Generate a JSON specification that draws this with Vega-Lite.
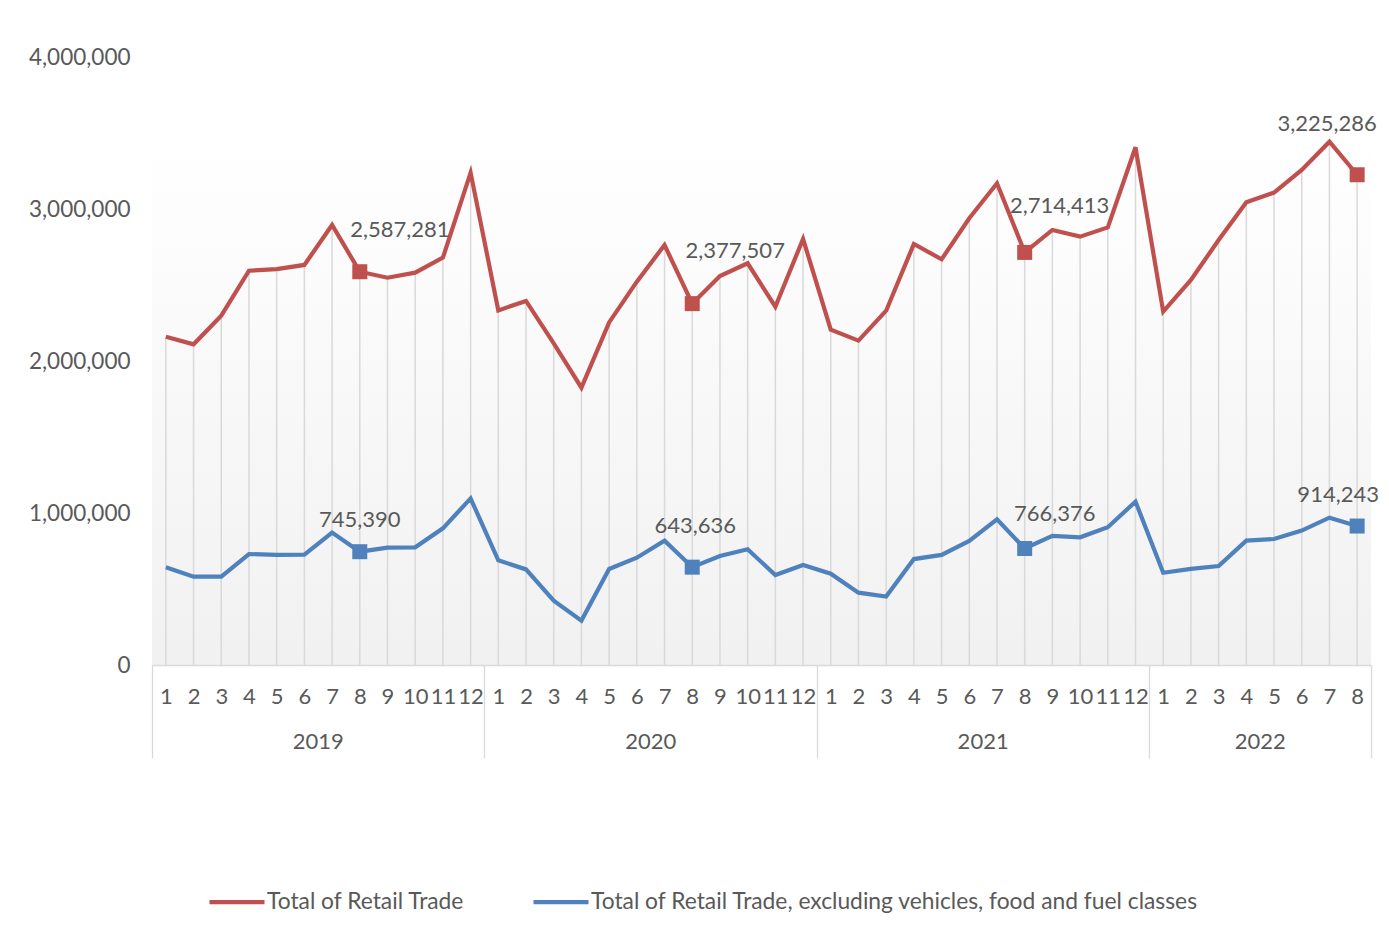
{
  "$schema": "https://vega.github.io/schema/vega-lite/v6.json",
  "autosize": "none",
  "width": 1219,
  "height": 608,
  "padding": {"left": 152, "top": 57, "right": 18, "bottom": 265},
  "background": "#ffffff",
  "config": {
    "font": "Lato",
    "view": {
      "stroke": null,
      "fill": {"gradient": "linear", "x1": 0, "y1": 0, "x2": 0, "y2": 1,
        "stops": [{"offset": 0, "color": "#ffffff"}, {"offset": 0.13, "color": "#ffffff"}, {"offset": 1, "color": "#f1f1f1"}]}
    },
    "text": {"font": "Lato", "fontSize": 22, "fill": "#595959"}
  },
  "data": {"values": [
    {"key": "2019-01", "year": 2019, "month": 1, "series": "Total of Retail Trade", "value": 2160000},
    {"key": "2019-02", "year": 2019, "month": 2, "series": "Total of Retail Trade", "value": 2110000},
    {"key": "2019-03", "year": 2019, "month": 3, "series": "Total of Retail Trade", "value": 2298000},
    {"key": "2019-04", "year": 2019, "month": 4, "series": "Total of Retail Trade", "value": 2594000},
    {"key": "2019-05", "year": 2019, "month": 5, "series": "Total of Retail Trade", "value": 2605000},
    {"key": "2019-06", "year": 2019, "month": 6, "series": "Total of Retail Trade", "value": 2632000},
    {"key": "2019-07", "year": 2019, "month": 7, "series": "Total of Retail Trade", "value": 2895000},
    {"key": "2019-08", "year": 2019, "month": 8, "series": "Total of Retail Trade", "value": 2587281},
    {"key": "2019-09", "year": 2019, "month": 9, "series": "Total of Retail Trade", "value": 2548000},
    {"key": "2019-10", "year": 2019, "month": 10, "series": "Total of Retail Trade", "value": 2581000},
    {"key": "2019-11", "year": 2019, "month": 11, "series": "Total of Retail Trade", "value": 2680000},
    {"key": "2019-12", "year": 2019, "month": 12, "series": "Total of Retail Trade", "value": 3239000},
    {"key": "2020-01", "year": 2020, "month": 1, "series": "Total of Retail Trade", "value": 2333000},
    {"key": "2020-02", "year": 2020, "month": 2, "series": "Total of Retail Trade", "value": 2395000},
    {"key": "2020-03", "year": 2020, "month": 3, "series": "Total of Retail Trade", "value": 2116000},
    {"key": "2020-04", "year": 2020, "month": 4, "series": "Total of Retail Trade", "value": 1825000},
    {"key": "2020-05", "year": 2020, "month": 5, "series": "Total of Retail Trade", "value": 2254000},
    {"key": "2020-06", "year": 2020, "month": 6, "series": "Total of Retail Trade", "value": 2522000},
    {"key": "2020-07", "year": 2020, "month": 7, "series": "Total of Retail Trade", "value": 2763000},
    {"key": "2020-08", "year": 2020, "month": 8, "series": "Total of Retail Trade", "value": 2377507},
    {"key": "2020-09", "year": 2020, "month": 9, "series": "Total of Retail Trade", "value": 2559000},
    {"key": "2020-10", "year": 2020, "month": 10, "series": "Total of Retail Trade", "value": 2643000},
    {"key": "2020-11", "year": 2020, "month": 11, "series": "Total of Retail Trade", "value": 2357000},
    {"key": "2020-12", "year": 2020, "month": 12, "series": "Total of Retail Trade", "value": 2803000},
    {"key": "2021-01", "year": 2021, "month": 1, "series": "Total of Retail Trade", "value": 2206000},
    {"key": "2021-02", "year": 2021, "month": 2, "series": "Total of Retail Trade", "value": 2134000},
    {"key": "2021-03", "year": 2021, "month": 3, "series": "Total of Retail Trade", "value": 2331000},
    {"key": "2021-04", "year": 2021, "month": 4, "series": "Total of Retail Trade", "value": 2770000},
    {"key": "2021-05", "year": 2021, "month": 5, "series": "Total of Retail Trade", "value": 2669000},
    {"key": "2021-06", "year": 2021, "month": 6, "series": "Total of Retail Trade", "value": 2939000},
    {"key": "2021-07", "year": 2021, "month": 7, "series": "Total of Retail Trade", "value": 3169000},
    {"key": "2021-08", "year": 2021, "month": 8, "series": "Total of Retail Trade", "value": 2714413},
    {"key": "2021-09", "year": 2021, "month": 9, "series": "Total of Retail Trade", "value": 2862000},
    {"key": "2021-10", "year": 2021, "month": 10, "series": "Total of Retail Trade", "value": 2818000},
    {"key": "2021-11", "year": 2021, "month": 11, "series": "Total of Retail Trade", "value": 2879000},
    {"key": "2021-12", "year": 2021, "month": 12, "series": "Total of Retail Trade", "value": 3406000},
    {"key": "2022-01", "year": 2022, "month": 1, "series": "Total of Retail Trade", "value": 2325000},
    {"key": "2022-02", "year": 2022, "month": 2, "series": "Total of Retail Trade", "value": 2533000},
    {"key": "2022-03", "year": 2022, "month": 3, "series": "Total of Retail Trade", "value": 2796000},
    {"key": "2022-04", "year": 2022, "month": 4, "series": "Total of Retail Trade", "value": 3044000},
    {"key": "2022-05", "year": 2022, "month": 5, "series": "Total of Retail Trade", "value": 3108000},
    {"key": "2022-06", "year": 2022, "month": 6, "series": "Total of Retail Trade", "value": 3257000},
    {"key": "2022-07", "year": 2022, "month": 7, "series": "Total of Retail Trade", "value": 3443000},
    {"key": "2022-08", "year": 2022, "month": 8, "series": "Total of Retail Trade", "value": 3225286},
    {"key": "2019-01", "year": 2019, "month": 1, "series": "Total of Retail Trade, excluding vehicles, food and fuel classes", "value": 643000},
    {"key": "2019-02", "year": 2019, "month": 2, "series": "Total of Retail Trade, excluding vehicles, food and fuel classes", "value": 581000},
    {"key": "2019-03", "year": 2019, "month": 3, "series": "Total of Retail Trade, excluding vehicles, food and fuel classes", "value": 582000},
    {"key": "2019-04", "year": 2019, "month": 4, "series": "Total of Retail Trade, excluding vehicles, food and fuel classes", "value": 730000},
    {"key": "2019-05", "year": 2019, "month": 5, "series": "Total of Retail Trade, excluding vehicles, food and fuel classes", "value": 724000},
    {"key": "2019-06", "year": 2019, "month": 6, "series": "Total of Retail Trade, excluding vehicles, food and fuel classes", "value": 726000},
    {"key": "2019-07", "year": 2019, "month": 7, "series": "Total of Retail Trade, excluding vehicles, food and fuel classes", "value": 871000},
    {"key": "2019-08", "year": 2019, "month": 8, "series": "Total of Retail Trade, excluding vehicles, food and fuel classes", "value": 745390},
    {"key": "2019-09", "year": 2019, "month": 9, "series": "Total of Retail Trade, excluding vehicles, food and fuel classes", "value": 772000},
    {"key": "2019-10", "year": 2019, "month": 10, "series": "Total of Retail Trade, excluding vehicles, food and fuel classes", "value": 774000},
    {"key": "2019-11", "year": 2019, "month": 11, "series": "Total of Retail Trade, excluding vehicles, food and fuel classes", "value": 899000},
    {"key": "2019-12", "year": 2019, "month": 12, "series": "Total of Retail Trade, excluding vehicles, food and fuel classes", "value": 1096000},
    {"key": "2020-01", "year": 2020, "month": 1, "series": "Total of Retail Trade, excluding vehicles, food and fuel classes", "value": 689000},
    {"key": "2020-02", "year": 2020, "month": 2, "series": "Total of Retail Trade, excluding vehicles, food and fuel classes", "value": 629000},
    {"key": "2020-03", "year": 2020, "month": 3, "series": "Total of Retail Trade, excluding vehicles, food and fuel classes", "value": 423000},
    {"key": "2020-04", "year": 2020, "month": 4, "series": "Total of Retail Trade, excluding vehicles, food and fuel classes", "value": 292000},
    {"key": "2020-05", "year": 2020, "month": 5, "series": "Total of Retail Trade, excluding vehicles, food and fuel classes", "value": 632000},
    {"key": "2020-06", "year": 2020, "month": 6, "series": "Total of Retail Trade, excluding vehicles, food and fuel classes", "value": 706000},
    {"key": "2020-07", "year": 2020, "month": 7, "series": "Total of Retail Trade, excluding vehicles, food and fuel classes", "value": 818000},
    {"key": "2020-08", "year": 2020, "month": 8, "series": "Total of Retail Trade, excluding vehicles, food and fuel classes", "value": 643636},
    {"key": "2020-09", "year": 2020, "month": 9, "series": "Total of Retail Trade, excluding vehicles, food and fuel classes", "value": 717000},
    {"key": "2020-10", "year": 2020, "month": 10, "series": "Total of Retail Trade, excluding vehicles, food and fuel classes", "value": 761000},
    {"key": "2020-11", "year": 2020, "month": 11, "series": "Total of Retail Trade, excluding vehicles, food and fuel classes", "value": 592000},
    {"key": "2020-12", "year": 2020, "month": 12, "series": "Total of Retail Trade, excluding vehicles, food and fuel classes", "value": 658000},
    {"key": "2021-01", "year": 2021, "month": 1, "series": "Total of Retail Trade, excluding vehicles, food and fuel classes", "value": 601000},
    {"key": "2021-02", "year": 2021, "month": 2, "series": "Total of Retail Trade, excluding vehicles, food and fuel classes", "value": 476000},
    {"key": "2021-03", "year": 2021, "month": 3, "series": "Total of Retail Trade, excluding vehicles, food and fuel classes", "value": 450000},
    {"key": "2021-04", "year": 2021, "month": 4, "series": "Total of Retail Trade, excluding vehicles, food and fuel classes", "value": 697000},
    {"key": "2021-05", "year": 2021, "month": 5, "series": "Total of Retail Trade, excluding vehicles, food and fuel classes", "value": 724000},
    {"key": "2021-06", "year": 2021, "month": 6, "series": "Total of Retail Trade, excluding vehicles, food and fuel classes", "value": 816000},
    {"key": "2021-07", "year": 2021, "month": 7, "series": "Total of Retail Trade, excluding vehicles, food and fuel classes", "value": 958000},
    {"key": "2021-08", "year": 2021, "month": 8, "series": "Total of Retail Trade, excluding vehicles, food and fuel classes", "value": 766376},
    {"key": "2021-09", "year": 2021, "month": 9, "series": "Total of Retail Trade, excluding vehicles, food and fuel classes", "value": 849000},
    {"key": "2021-10", "year": 2021, "month": 10, "series": "Total of Retail Trade, excluding vehicles, food and fuel classes", "value": 840000},
    {"key": "2021-11", "year": 2021, "month": 11, "series": "Total of Retail Trade, excluding vehicles, food and fuel classes", "value": 906000},
    {"key": "2021-12", "year": 2021, "month": 12, "series": "Total of Retail Trade, excluding vehicles, food and fuel classes", "value": 1075000},
    {"key": "2022-01", "year": 2022, "month": 1, "series": "Total of Retail Trade, excluding vehicles, food and fuel classes", "value": 607000},
    {"key": "2022-02", "year": 2022, "month": 2, "series": "Total of Retail Trade, excluding vehicles, food and fuel classes", "value": 632000},
    {"key": "2022-03", "year": 2022, "month": 3, "series": "Total of Retail Trade, excluding vehicles, food and fuel classes", "value": 651000},
    {"key": "2022-04", "year": 2022, "month": 4, "series": "Total of Retail Trade, excluding vehicles, food and fuel classes", "value": 818000},
    {"key": "2022-05", "year": 2022, "month": 5, "series": "Total of Retail Trade, excluding vehicles, food and fuel classes", "value": 829000},
    {"key": "2022-06", "year": 2022, "month": 6, "series": "Total of Retail Trade, excluding vehicles, food and fuel classes", "value": 884000},
    {"key": "2022-07", "year": 2022, "month": 7, "series": "Total of Retail Trade, excluding vehicles, food and fuel classes", "value": 969000},
    {"key": "2022-08", "year": 2022, "month": 8, "series": "Total of Retail Trade, excluding vehicles, food and fuel classes", "value": 914243}
  ]},
  "encoding": {
    "x": {
      "field": "key", "type": "ordinal", "title": null,
      "scale": {"paddingInner": 0, "paddingOuter": 0},
      "axis": {
        "labelExpr": "datum.value ? '' + toNumber(slice(datum.value, 5)) : ''",
        "labelAngle": 0, "labelFontSize": 22, "labelColor": "#595959", "labelFont": "Lato",
        "labelOverlap": false, "labelBound": false,
        "domainColor": "#d9d9d9", "domainWidth": 1.3,
        "ticks": true, "tickBand": "extent", "tickSize": 93, "tickWidth": 1.3,
        "tickColor": {"condition": {"test": "!datum.value || indexof('' + datum.value, '-12') > 0 || datum.value == '2022-08'", "value": "#d9d9d9"}, "value": "transparent"},
        "labelPadding": -72
      }
    },
    "y": {
      "field": "value", "type": "quantitative", "title": null,
      "scale": {"domain": [0, 4000000], "nice": false, "zero": true},
      "axis": {
        "values": [0, 1000000, 2000000, 3000000, 4000000], "format": ",d",
        "grid": false, "domain": false, "ticks": false,
        "labelFontSize": 22.5, "labelColor": "#595959", "labelFont": "Lato", "labelPadding": 22
      }
    }
  },
  "layer": [
    {
      "transform": [{"filter": "datum.series == 'Total of Retail Trade'"}],
      "mark": {"type": "rule", "stroke": "#d9d9d9", "strokeWidth": 1.5},
      "encoding": {"y2": {"datum": 0}}
    },
    {
      "mark": {"type": "line", "strokeWidth": 4.2, "strokeJoin": "miter"},
      "encoding": {
        "color": {
          "field": "series", "type": "nominal",
          "scale": {"domain": ["Total of Retail Trade", "Total of Retail Trade, excluding vehicles, food and fuel classes"], "range": ["#C0504D", "#4F81BD"]},
          "legend": {
            "title": null, "orient": "none", "direction": "horizontal", "legendX": 55, "legendY": 815,
            "symbolType": "stroke", "symbolSize": 3025, "symbolStrokeWidth": 4.2,
            "labelFontSize": 22.8, "labelColor": "#595959", "labelFont": "Lato", "labelLimit": 0,
            "labelOffset": 0, "columnPadding": 60
          }
        }
      }
    },
    {
      "transform": [{"filter": "datum.month == 8"}],
      "mark": {"type": "point", "shape": "square", "filled": true, "size": 225, "opacity": 1},
      "encoding": {
        "fill": {
          "field": "series", "type": "nominal", "legend": null,
          "scale": {"domain": ["Total of Retail Trade", "Total of Retail Trade, excluding vehicles, food and fuel classes"], "range": ["#C0504D", "#4F81BD"]}
        }
      }
    },
    {
      "transform": [{"filter": "datum.series == 'Total of Retail Trade' && ((datum.month == 7 && datum.year < 2022) || (datum.year == 2022 && datum.month == 5))"}],
      "mark": {"type": "text", "dy": 77, "dx": -13.85, "fontSize": 22, "fill": "#595959"},
      "encoding": {"y": {"datum": 0}, "text": {"field": "year", "type": "nominal"}}
    },
    {
      "transform": [{"filter": "datum.key == '2019-08' && datum.series == 'Total of Retail Trade'"}],
      "mark": {"type": "text", "dx": 40, "dy": -42},
      "encoding": {"text": {"field": "value", "type": "quantitative", "format": ",d"}}
    },
    {
      "transform": [{"filter": "datum.key == '2020-08' && datum.series == 'Total of Retail Trade'"}],
      "mark": {"type": "text", "dx": 43, "dy": -53},
      "encoding": {"text": {"field": "value", "type": "quantitative", "format": ",d"}}
    },
    {
      "transform": [{"filter": "datum.key == '2021-08' && datum.series == 'Total of Retail Trade'"}],
      "mark": {"type": "text", "dx": 35, "dy": -46},
      "encoding": {"text": {"field": "value", "type": "quantitative", "format": ",d"}}
    },
    {
      "transform": [{"filter": "datum.key == '2022-08' && datum.series == 'Total of Retail Trade'"}],
      "mark": {"type": "text", "dx": -30, "dy": -51},
      "encoding": {"text": {"field": "value", "type": "quantitative", "format": ",d"}}
    },
    {
      "transform": [{"filter": "datum.key == '2019-08' && datum.series != 'Total of Retail Trade'"}],
      "mark": {"type": "text", "dx": 0, "dy": -32},
      "encoding": {"text": {"field": "value", "type": "quantitative", "format": ",d"}}
    },
    {
      "transform": [{"filter": "datum.key == '2020-08' && datum.series != 'Total of Retail Trade'"}],
      "mark": {"type": "text", "dx": 3, "dy": -41},
      "encoding": {"text": {"field": "value", "type": "quantitative", "format": ",d"}}
    },
    {
      "transform": [{"filter": "datum.key == '2021-08' && datum.series != 'Total of Retail Trade'"}],
      "mark": {"type": "text", "dx": 30, "dy": -35},
      "encoding": {"text": {"field": "value", "type": "quantitative", "format": ",d"}}
    },
    {
      "transform": [{"filter": "datum.key == '2022-08' && datum.series != 'Total of Retail Trade'"}],
      "mark": {"type": "text", "dx": -19, "dy": -31},
      "encoding": {"text": {"field": "value", "type": "quantitative", "format": ",d"}}
    }
  ]
}
